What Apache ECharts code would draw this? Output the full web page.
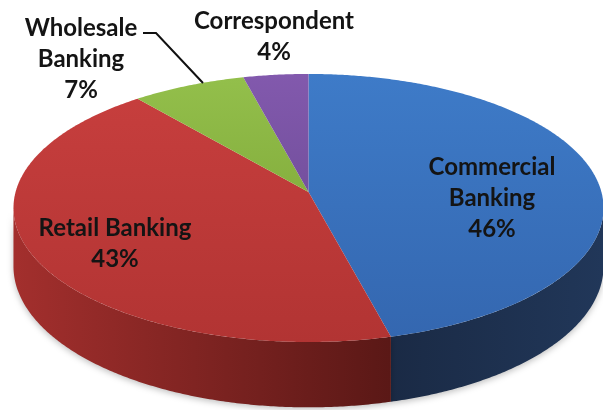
<!DOCTYPE html>
<html>
<head>
<meta charset="utf-8">
<script src="https://cdn.jsdelivr.net/npm/echarts@6/dist/echarts.min.js"></script>
<style>
  html, body { margin: 0; padding: 0; background: #ffffff; }
  #chart { width: 603px; height: 410px; }
</style>
</head>
<body>
<div id="chart"></div>
<script>
// Business mix by segment (share of total, %)
const categories = ['Commercial\nBanking', 'Retail Banking', 'Wholesale\nBanking', 'Correspondent'];
const shares = [46, 43, 7, 4];

// Slice colours: top face gradient (light, dark) and side wall gradient (left, right)
const topColors = [['#3E7BC8', '#3467B0'], ['#C63E3D', '#B23433'], ['#93BF4B', '#86B03F'], ['#8259AD', '#74509E']];
const sideColors = [['#1A2A45', '#213759'], ['#A32F2D', '#5A1816'], ['#5E7A2A', '#4A6020'], ['#4E3470', '#3E2A5A']];

// Label placement (centre of each text block) and leader lines
const labelPos = [[492, 198], [115, 244], [81, 59], [274, 37]];
const leaders = [null, null, [[143, 33], [156, 33], [203, 83]], null];

// Projection of the tilted disc (slight perspective)
const K = 0.12, CX = 308.5, CY = 191.9, RX = 292.9, RY = 132.1, T = 57.5;
function proj(theta, h) {
  const X = Math.sin(theta), Z = Math.cos(theta);
  const w = 1 + K * Z;
  return [CX + RX * X / w, CY + (-RY * Z + T * h) / w];
}
const silhouette = Math.acos(-K);
const total = shares.reduce((a, b) => a + b, 0);
const starts = [];
shares.reduce((acc, v, i) => { starts[i] = acc; return acc + v; }, 0);

function arc(a0, a1, h) {
  const pts = [];
  const n = Math.max(2, Math.ceil((a1 - a0) / (Math.PI / 360)));
  for (let j = 0; j <= n; j++) pts.push(proj(a0 + (a1 - a0) * j / n, h));
  return pts;
}

function renderItem(params, api) {
  const i = params.dataIndex;
  const v = api.value(0);
  const a0 = starts[i] / total * Math.PI * 2;
  const a1 = (starts[i] + v) / total * Math.PI * 2;
  const children = [];

  // visible outer wall
  const s0 = Math.max(a0, silhouette), s1 = Math.min(a1, Math.PI * 2 - silhouette);
  if (s1 > s0) {
    const pts = arc(s0, s1, 0).concat(arc(s0, s1, 1).reverse());
    children.push({
      type: 'polygon',
      shape: { points: pts },
      style: {
        fill: new echarts.graphic.LinearGradient(0, 0, 1, 0, [
          { offset: 0, color: sideColors[i][0] },
          { offset: 1, color: sideColors[i][1] }
        ]),
        shadowBlur: 6, shadowColor: 'rgba(0,0,0,0.25)', shadowOffsetY: 2
      }
    });
  }

  // top face
  const top = [[CX, CY]].concat(arc(a0, a1, 0));
  children.push({
    type: 'polygon',
    shape: { points: top },
    style: {
      fill: new echarts.graphic.LinearGradient(0, 0, 0, 1, [
        { offset: 0, color: topColors[i][0] },
        { offset: 1, color: topColors[i][1] }
      ])
    }
  });

  if (leaders[i]) {
    children.push({
      type: 'polyline',
      shape: { points: leaders[i] },
      style: { stroke: '#111', lineWidth: 2, fill: null }
    });
  }

  children.push({
    type: 'text',
    z2: 10,
    style: {
      text: categories[i] + '\n' + v + '%',
      x: labelPos[i][0], y: labelPos[i][1],
      align: 'center', verticalAlign: 'middle',
      fontFamily: 'Lato', fontWeight: 'bold', fontSize: 24, lineHeight: 31,
      fill: '#141414'
    }
  });

  return { type: 'group', children: children };
}

const chart = echarts.init(document.getElementById('chart'), null, { renderer: 'canvas' });
chart.setOption({
  animation: false,
  backgroundColor: '#ffffff',
  series: [{
    type: 'custom',
    coordinateSystem: 'none',
    renderItem: renderItem,
    data: shares.map((v, i) => ({ name: categories[i], value: [v] }))
  }]
});
</script>
</body>
</html>
